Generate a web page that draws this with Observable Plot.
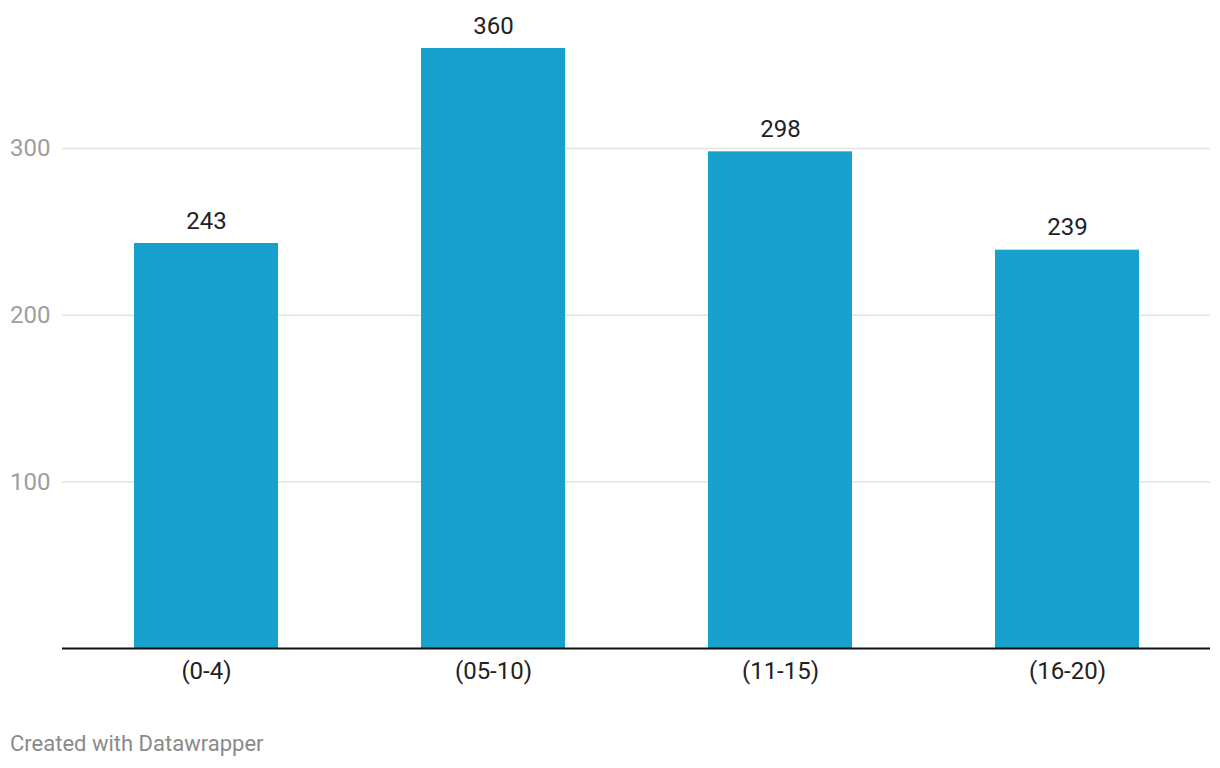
<!DOCTYPE html>
<html>
<head>
<meta charset="utf-8">
<script src="https://cdn.jsdelivr.net/npm/d3@7"></script>
<script src="https://cdn.jsdelivr.net/npm/@observablehq/plot@0.6"></script>
<style>
  html, body { margin: 0; padding: 0; background: #fff; }
  body { font-family: Roboto, "Noto Sans", sans-serif; width: 1220px; }
  #caption { position: absolute; left: 10px; top: 731px; font-size: 22px; color: #8a8a8a; font-family: Roboto, sans-serif; }
</style>
</head>
<body>
<div id="chart"></div>
<div id="caption">Created with Datawrapper</div>
<script>
const categories = ["(0-4)", "(05-10)", "(11-15)", "(16-20)"];
const values = [243, 360, 298, 239];
const yTicks = [100, 200, 300];

const data = categories.map((c, i) => ({category: c, value: values[i]}));

const chart = Plot.plot({
  width: 1220,
  height: 700,
  marginTop: 48,
  marginLeft: 62,
  marginRight: 10,
  marginBottom: 52,
  style: {fontFamily: "Roboto, sans-serif", background: "#fff"},
  x: {domain: categories, paddingInner: 0.5, paddingOuter: 0.25, label: null},
  y: {domain: [0, 360], label: null},
  marks: [
    Plot.gridY(yTicks, {stroke: "#e3e3e3", strokeOpacity: 1, strokeWidth: 1.5}),
    Plot.axisY(yTicks, {tickSize: 0, tickPadding: 12, fontSize: 24, fill: "#9e9e9e", label: null}),
    Plot.barY(data, {x: "category", y: "value", fill: "#19a1cd"}),
    Plot.ruleY([0], {stroke: "#111", strokeWidth: 2}),
    Plot.axisX({tickSize: 0, tickPadding: 13, fontSize: 24, fill: "#222", label: null}),
    Plot.text(data, {x: "category", y: "value", text: d => String(d.value), lineAnchor: "bottom", dy: -15, fontSize: 24, fill: "#222"})
  ]
});
document.getElementById("chart").appendChild(chart);
</script>
</body>
</html>
